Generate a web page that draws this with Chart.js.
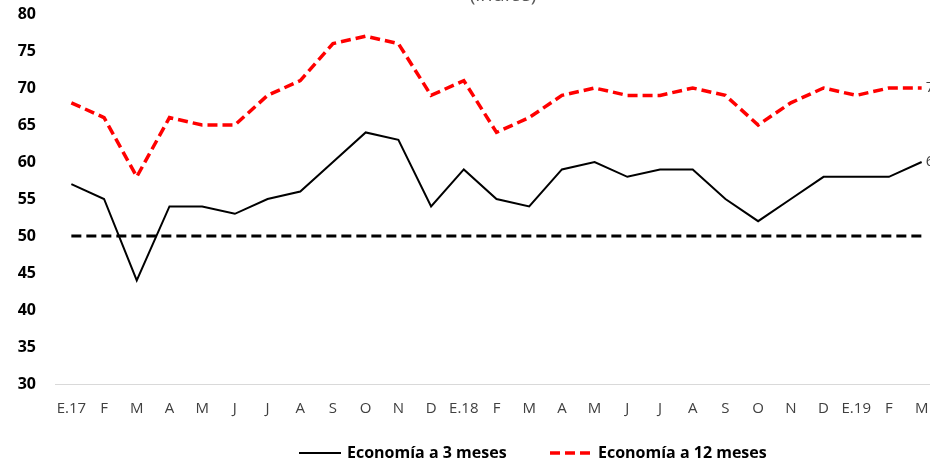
<!DOCTYPE html>
<html>
<head>
<meta charset="utf-8">
<script src="https://cdn.jsdelivr.net/npm/chart.js@4/dist/chart.umd.min.js"></script>
<style>
  html, body { margin: 0; padding: 0; background: #ffffff; overflow: hidden; }
  #wrap { position: relative; width: 938px; height: 462px; }
</style>
</head>
<body>
<!-- the original picture is cropped on the right, so the canvas runs a bit past the window -->
<div id="wrap"><canvas id="chart" width="938" height="462" style="width:938px;height:462px"></canvas></div>
<script>
// Month labels, Jan 2017 to Mar 2019
const months = ['E.17', 'F', 'M', 'A', 'M', 'J', 'J', 'A', 'S', 'O', 'N', 'D',
                'E.18', 'F', 'M', 'A', 'M', 'J', 'J', 'A', 'S', 'O', 'N', 'D',
                'E.19', 'F', 'M'];

// Expectations index, 3-month horizon
const economia3 = [57, 55, 44, 54, 54, 53, 55, 56, 60, 64, 63, 54,
                   59, 55, 54, 59, 60, 58, 59, 59, 55, 52, 55, 58,
                   58, 58, 60];

// Expectations index, 12-month horizon
const economia12 = [68, 66, 58, 66, 65, 65, 69, 71, 76, 77, 76, 69,
                    71, 64, 66, 69, 70, 69, 69, 70, 69, 65, 68, 70,
                    69, 70, 70];

// Neutral line
const neutral = months.map(() => 50);

const yTicks = { min: 30, max: 80, step: 5 };
const titleText = '(índice)';
const legendNames = ['Economía a 3 meses', 'Economía a 12 meses'];

const FONT = "'Open Sans', sans-serif";

// Draw title (cropped at top), end labels and the legend
const extras = {
    id: 'extras',
    afterDraw(chart) {
        const ctx = chart.ctx;
        ctx.save();

        // title, mostly cut off by the top edge
        ctx.fillStyle = '#595959';
        ctx.font = '20px ' + FONT;
        ctx.textAlign = 'center';
        ctx.textBaseline = 'alphabetic';
        ctx.fillText(titleText, 503, 1);

        // last value labels
        ctx.font = '15px ' + FONT;
        ctx.textAlign = 'left';
        ctx.textBaseline = 'middle';
        ctx.fillStyle = '#404040';
        [0, 1].forEach(i => {
            const meta = chart.getDatasetMeta(i);
            const last = meta.data.length - 1;
            const pt = meta.data[last];
            ctx.fillText(String(chart.data.datasets[i].data[last]), pt.x + 4, pt.y);
        });

        // legend
        const y = 453;
        const items = [
            { ds: chart.data.datasets[0], x: 299 },
            { ds: chart.data.datasets[1], x: 550 }
        ];
        ctx.font = 'bold 16px ' + FONT;
        items.forEach(it => {
            ctx.beginPath();
            ctx.strokeStyle = it.ds.borderColor;
            ctx.lineWidth = it.ds.borderWidth;
            ctx.setLineDash(it.ds.borderDash || []);
            ctx.moveTo(it.x, y);
            ctx.lineTo(it.x + 42, y);
            ctx.stroke();
            ctx.setLineDash([]);
            ctx.fillStyle = '#000000';
            ctx.fillText(it.ds.label, it.x + 48, y);
        });
        ctx.restore();
    }
};

const ctx = document.getElementById('chart').getContext('2d');
const chart = new Chart(ctx, {
    type: 'line',
    data: {
        labels: months,
        datasets: [
            {
                label: legendNames[0],
                data: economia3,
                borderColor: '#000000',
                borderWidth: 2,
                pointRadius: 0,
                tension: 0
            },
            {
                label: legendNames[1],
                data: economia12,
                borderColor: '#ff0000',
                borderWidth: 3.5,
                borderDash: [10, 5],
                pointRadius: 0,
                tension: 0
            },
            {
                label: 'neutral',
                data: neutral,
                borderColor: '#000000',
                borderWidth: 3,
                borderDash: [10, 5],
                pointRadius: 0,
                tension: 0
            }
        ]
    },
    options: {
        responsive: false,
        animation: false,
        layout: { padding: { top: 0, right: 0, bottom: 38, left: 0 } },
        plugins: {
            legend: { display: false },
            tooltip: { enabled: false }
        },
        scales: {
            x: {
                offset: true,
                grid: { display: false, drawTicks: false },
                border: { color: '#d9d9d9', width: 1 },
                ticks: {
                    autoSkip: false,
                    maxRotation: 0,
                    padding: 16,
                    color: '#404040',
                    font: { family: FONT, size: 15 }
                },
                afterFit(scale) {
                    scale.height = 40;
                    scale.paddingLeft = 0;
                    scale.paddingRight = 0;
                }
            },
            y: {
                min: yTicks.min,
                max: yTicks.max,
                grid: { display: false, drawTicks: false },
                border: { display: false },
                ticks: {
                    stepSize: yTicks.step,
                    padding: 19,
                    color: '#000000',
                    font: { family: FONT, size: 16, weight: 'bold' }
                },
                afterFit(scale) {
                    scale.width = 55;
                    scale.paddingTop = 14;
                    scale.paddingBottom = 0;
                }
            }
        }
    },
    plugins: [extras]
});
</script>
</body>
</html>
